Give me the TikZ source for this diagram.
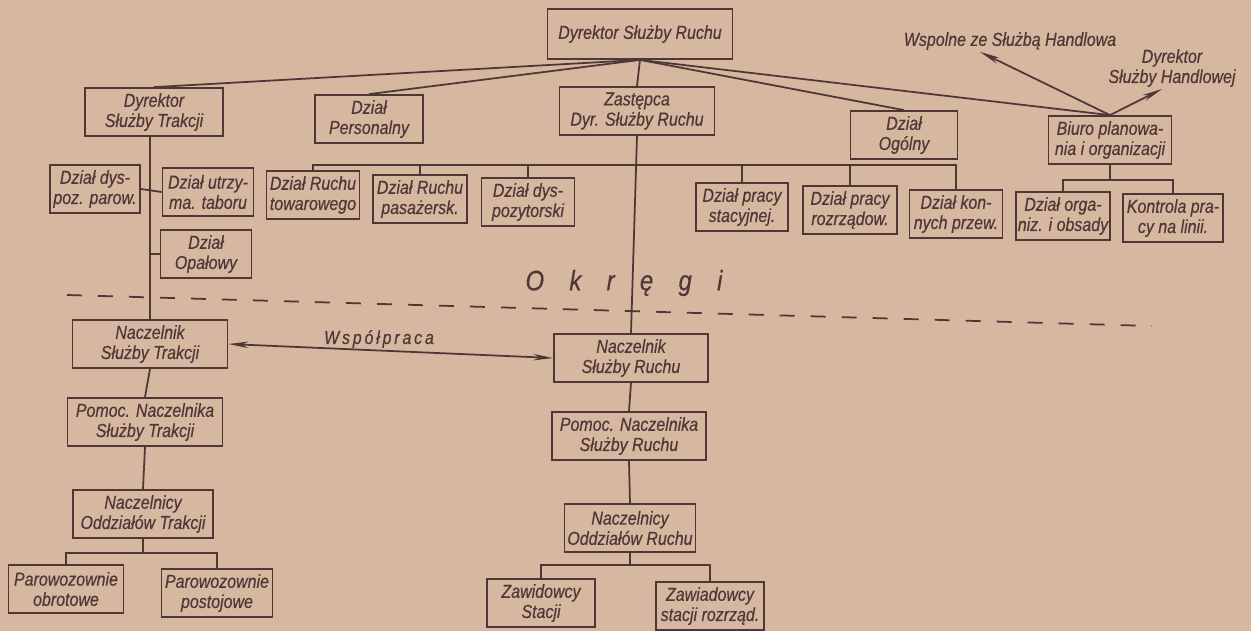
\documentclass[tikz,border=0pt]{standalone}
\usepackage{fontspec}
\setmainfont{Liberation Sans}[FakeStretch=0.85, FakeBold=0.4]
\usetikzlibrary{arrows.meta}

\begin{document}
\begin{tikzpicture}[x=0.2mm, y=-0.2mm,
	box/.style={draw=ink, line width=1pt, text=ink, align=center, inner sep=1pt, minimum height=9.6mm, font=\itshape\fontsize{10.7}{11.5}\selectfont},
	lbl/.style={text=ink, align=center, inner sep=1pt, font=\itshape\fontsize{10.7}{11.5}\selectfont},
	link/.style={draw=ink, line width=1pt},
	arr/.style={link, -{Stealth[length=4mm, width=1.3mm]}},
	arrs/.style={link, {Stealth[length=4mm, width=1.3mm]}-{Stealth[length=4mm, width=1.3mm]}}]
	\definecolor{paper}{RGB}{214,183,160}
	\definecolor{ink}{RGB}{80,55,55}

	\useasboundingbox (0,0) rectangle (1251,631);
	\fill[paper] (0,0) rectangle (1251,631);

	\node[box, minimum width=37mm, minimum height=10mm] (top) at (640,34) {Dyrektor Służby Ruchu};
	\node[box, minimum width=27.6mm] (trakcja) at (154,112) {Dyrektor\\Służby Trakcji};
	\node[box, minimum width=21.6mm] (personal) at (369,119) {Dział\\Personalny};
	\node[box, minimum width=31mm] (zastepca) at (637,111) {Zastępca\\Dyr. Służby Ruchu};
	\node[box, minimum width=21.4mm] (ogolny) at (904,135) {Dział\\Ogólny};
	\node[box, minimum width=24.6mm] (biuro) at (1110,140) {Biuro planowa-\\nia i organizacji};

	\node[box, minimum width=18mm] (dyspar) at (95,189) {Dział dys-\\poz. parow.};
	\node[box, minimum width=18.2mm] (utrzym) at (208,192) {Dział utrzy-\\ma. taboru};
	\node[box, minimum width=18.2mm] (opal) at (206,254) {Dział\\Opałowy};

	\node[box, minimum width=18.6mm] (towar) at (313,195) {Dział Ruchu\\towarowego};
	\node[box, minimum width=18.8mm] (pasaz) at (420,199) {Dział Ruchu\\pasażersk.};
	\node[box, minimum width=18.6mm] (dyspoz) at (528,202) {Dział dys-\\pozytorski};
	\node[box, minimum width=18.4mm] (stac) at (742,207) {Dział pracy\\stacyjnej.};
	\node[box, minimum width=18.8mm] (rozrz) at (850,210) {Dział pracy\\rozrządow.};
	\node[box, minimum width=18.6mm] (konne) at (956,214) {Dział kon-\\nych przew.};
	\node[box, minimum width=18.2mm] (organ) at (1063,216) {Dział orga-\\niz. i obsady};
	\node[box, minimum width=20mm] (kontr) at (1173,218) {Kontrola pra-\\cy na linii.};

	\node[box, minimum width=31mm] (nstr) at (150,344) {Naczelnik\\Służby Trakcji};
	\node[box, minimum width=30.8mm] (nsru) at (631,358) {Naczelnik\\Służby Ruchu};
	\node[box, minimum width=31mm] (pntr) at (145,422) {Pomoc. Naczelnika\\Służby Trakcji};
	\node[box, minimum width=30.8mm] (pnru) at (629,436) {Pomoc. Naczelnika\\Służby Ruchu};
	\node[box, minimum width=28mm] (notr) at (143,514) {Naczelnicy\\Oddziałów Trakcji};
	\node[box, minimum width=26.2mm] (noru) at (630,528) {Naczelnicy\\Oddziałów Ruchu};
	\node[box, minimum width=23mm] (parob) at (66,589) {Parowozownie\\obrotowe};
	\node[box, minimum width=22.2mm] (parpo) at (217,593) {Parowozownie\\postojowe};
	\node[box, minimum width=21.6mm] (zst) at (541,603) {Zawidowcy\\Stacji};
	\node[box, minimum width=21.6mm] (zroz) at (710,606) {Zawiadowcy\\stacji rozrząd.};

	\node[lbl] (wspolne) at (1010,41) {Wspolne ze Służbą Handlowa};
	\node[lbl] (handl) at (1172,68) {Dyrektor\\Służby Handlowej};
	\node[lbl, font=\itshape\fontsize{16}{16}\selectfont\addfontfeature{LetterSpace=90}] (okregi) at (624,283) {Okręgi};
	\node[lbl, font=\itshape\fontsize{10.7}{11.5}\selectfont\addfontfeature{LetterSpace=15}] (wspol) at (379,339) {Współpraca};

	\coordinate (dashL) at (67,295);
	\coordinate (dashR) at (1152,326);
	\draw[link, dash pattern=on 3mm off 3.2mm] (dashL) -- (dashR);

	\foreach \n in {trakcja,personal,zastepca,ogolny,biuro}
		\draw[link] (top.south) -- (\n.north);

	\draw[link] (nstr.north |- trakcja.south) -- (nstr.north);
	\draw[link] (dyspar.east) -- (utrzym.west);
	\draw[link] (opal.west) -- (opal.west -| nstr.north);

	\coordinate (rbus) at (637,165);
	\draw[link] (zastepca.south) -- (nsru.north);
	\draw[link] (towar.north) |- (rbus) -| (konne.north);
	\foreach \n in {pasaz,dyspoz,stac,rozrz}
		\draw[link] (\n.north) -- (\n.north |- rbus);

	\coordinate (bbus) at (1110,180);
	\draw[link] (biuro.south) -- (bbus);
	\draw[link] (organ.north) |- (bbus) -| (kontr.north);
	\draw[arr] (biuro.north) -- ([xshift=-6mm]wspolne.south);
	\draw[arr] (biuro.north) -- ([xshift=-2mm]handl.south);

	\draw[arrs] (nstr.east) -- (nsru.west);

	\draw[link] (nstr.south) -- (pntr.north);
	\draw[link] (pntr.south) -- (notr.north);
	\coordinate (tbus) at (143,553);
	\draw[link] (notr.south) -- (tbus);
	\draw[link] (parob.north) |- (tbus) -| (parpo.north);

	\draw[link] (nsru.south) -- (pnru.north);
	\draw[link] (pnru.south) -- (noru.north);
	\coordinate (rbus2) at (630,565);
	\draw[link] (noru.south) -- (rbus2);
	\draw[link] (zst.north) |- (rbus2) -| (zroz.north);
\end{tikzpicture}
\end{document}
